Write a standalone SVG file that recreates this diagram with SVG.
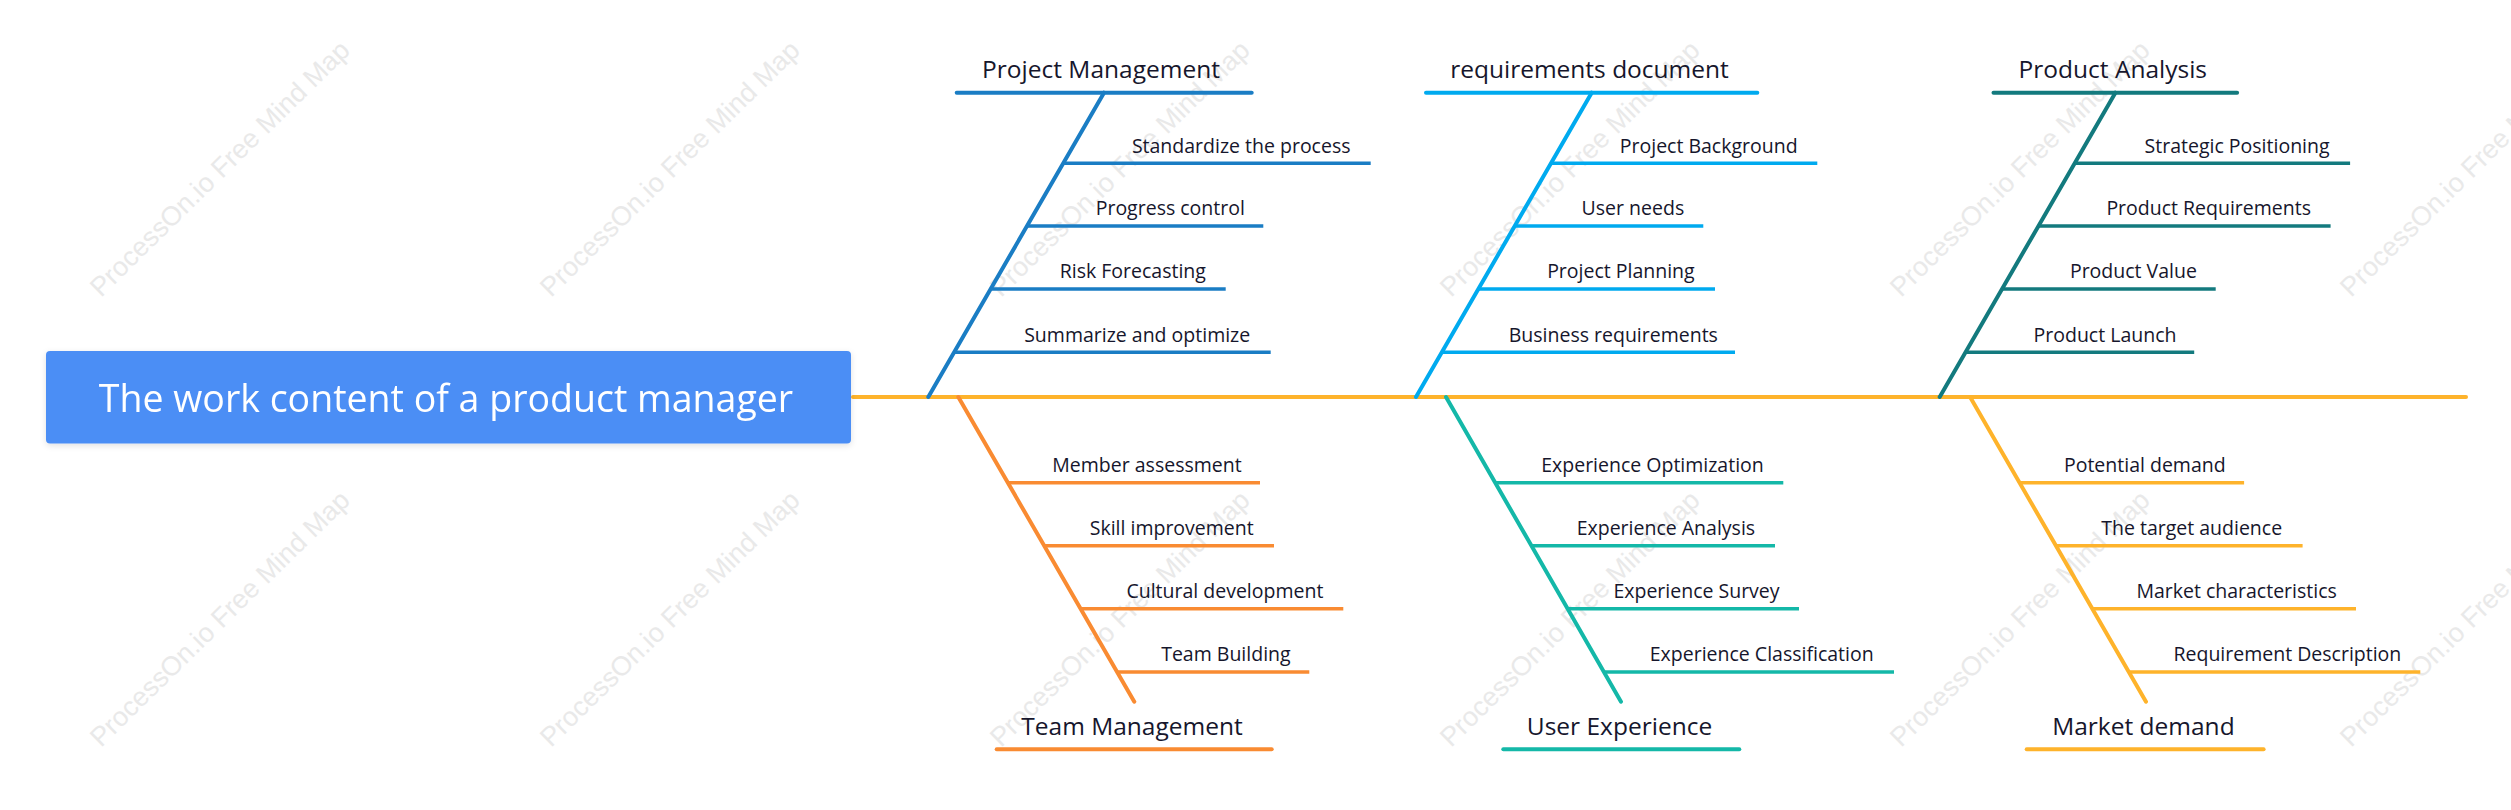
<svg xmlns="http://www.w3.org/2000/svg" width="2511" height="810" viewBox="0 0 2511 810">
<defs>
<style>
.wm{font-family:"Liberation Sans",Arial,sans-serif;font-size:27px;fill:#e9e9e9}
.t{font-family:"Open Sans","Noto Sans",sans-serif;fill:#16162c;text-anchor:middle}
.sub{font-size:19.5px}
.ttl{font-size:24.5px}
.root{font-family:"Open Sans","Noto Sans",sans-serif;font-size:37.5px;fill:#ffffff;text-anchor:middle}
line{fill:none}
.sp{stroke-width:4;stroke-linecap:round}
.tl{stroke-width:4;stroke-linecap:round}
.sl{stroke-width:3.6;stroke-linecap:butt}
.cA{stroke:#1a7dc4}.cB{stroke:#00aaef}.cC{stroke:#137a7e}.cD{stroke:#f98b32}.cE{stroke:#14b8a8}.cF{stroke:#feb32b}
</style>
<filter id="sh" x="-5%" y="-20%" width="110%" height="150%">
<feDropShadow dx="0" dy="2" stdDeviation="3" flood-color="#000" flood-opacity="0.12"/>
</filter>
</defs>
<rect width="2511" height="810" fill="#ffffff"/>
<g id="watermarks">
<text class="wm" transform="translate(101,298) rotate(-44.5)">ProcessOn.io Free Mind Map</text>
<text class="wm" transform="translate(551,298) rotate(-44.5)">ProcessOn.io Free Mind Map</text>
<text class="wm" transform="translate(1001,298) rotate(-44.5)">ProcessOn.io Free Mind Map</text>
<text class="wm" transform="translate(1451,298) rotate(-44.5)">ProcessOn.io Free Mind Map</text>
<text class="wm" transform="translate(1901,298) rotate(-44.5)">ProcessOn.io Free Mind Map</text>
<text class="wm" transform="translate(2351,298) rotate(-44.5)">ProcessOn.io Free Mind Map</text>
<text class="wm" transform="translate(101,748) rotate(-44.5)">ProcessOn.io Free Mind Map</text>
<text class="wm" transform="translate(551,748) rotate(-44.5)">ProcessOn.io Free Mind Map</text>
<text class="wm" transform="translate(1001,748) rotate(-44.5)">ProcessOn.io Free Mind Map</text>
<text class="wm" transform="translate(1451,748) rotate(-44.5)">ProcessOn.io Free Mind Map</text>
<text class="wm" transform="translate(1901,748) rotate(-44.5)">ProcessOn.io Free Mind Map</text>
<text class="wm" transform="translate(2351,748) rotate(-44.5)">ProcessOn.io Free Mind Map</text>
</g>
<g id="connectors">
<line class="sp cF" x1="853" y1="397" x2="2466" y2="397" stroke-linecap="butt"/>
<line class="sp cA" x1="928.3" y1="397" x2="1104" y2="92.7"/>
<line class="sp cB" x1="1416" y1="397" x2="1591.7" y2="92.7"/>
<line class="sp cC" x1="1939.7" y1="397" x2="2115.4" y2="92.7"/>
<line class="sp cD" x1="958.3" y1="397" x2="1134.3" y2="701.7"/>
<line class="sp cE" x1="1446" y1="397" x2="1621" y2="701.7"/>
<line class="sp cF" x1="1970.1" y1="397" x2="2146" y2="701.7"/>
</g>
<g id="root" filter="url(#sh)">
<rect x="46" y="351" width="805" height="92.5" rx="4" fill="#4b8ef5"/>
<text class="root" x="446" y="411.5">The work content of a product manager</text>
</g>
<g id="project-management">
<line class="tl cA" x1="956.7" y1="92.7" x2="1251.7" y2="92.7"/>
<text class="t ttl" x="1101" y="78">Project Management</text>
</g>
<g id="standardize-the-process"><line class="sl cA" x1="1063.2" y1="163.3" x2="1370.7" y2="163.3"/><text class="t sub" x="1241.2" y="152.5">Standardize the process</text></g>
<g id="progress-control"><line class="sl cA" x1="1027" y1="226" x2="1263.3" y2="226"/><text class="t sub" x="1170.3" y="215.2">Progress control</text></g>
<g id="risk-forecasting"><line class="sl cA" x1="990.7" y1="289" x2="1225.7" y2="289"/><text class="t sub" x="1132.8" y="278.2">Risk Forecasting</text></g>
<g id="summarize-and-optimize"><line class="sl cA" x1="954.1" y1="352.3" x2="1270.7" y2="352.3"/><text class="t sub" x="1137.2" y="341.5">Summarize and optimize</text></g>
<g id="requirements-document">
<line class="tl cB" x1="1426" y1="92.7" x2="1757.3" y2="92.7"/>
<text class="t ttl" x="1589.5" y="78">requirements document</text>
</g>
<g id="project-background"><line class="sl cB" x1="1550.9" y1="163.3" x2="1817.3" y2="163.3"/><text class="t sub" x="1708.7" y="152.5">Project Background</text></g>
<g id="user-needs"><line class="sl cB" x1="1514.7" y1="226" x2="1703.3" y2="226"/><text class="t sub" x="1632.9" y="215.2">User needs</text></g>
<g id="project-planning"><line class="sl cB" x1="1478.4" y1="289" x2="1715" y2="289"/><text class="t sub" x="1620.9" y="278.2">Project Planning</text></g>
<g id="business-requirements"><line class="sl cB" x1="1441.8" y1="352.3" x2="1735" y2="352.3"/><text class="t sub" x="1613.3" y="341.5">Business requirements</text></g>
<g id="product-analysis">
<line class="tl cC" x1="1993.5" y1="92.7" x2="2237.1" y2="92.7"/>
<text class="t ttl" x="2112.8" y="78">Product Analysis</text>
</g>
<g id="strategic-positioning"><line class="sl cC" x1="2074.6" y1="163.3" x2="2350.1" y2="163.3"/><text class="t sub" x="2237.1" y="152.5">Strategic Positioning</text></g>
<g id="product-requirements"><line class="sl cC" x1="2038.4" y1="226" x2="2330.6" y2="226"/><text class="t sub" x="2208.7" y="215.2">Product Requirements</text></g>
<g id="product-value"><line class="sl cC" x1="2002.1" y1="289" x2="2215.7" y2="289"/><text class="t sub" x="2133.4" y="278.2">Product Value</text></g>
<g id="product-launch"><line class="sl cC" x1="1965.5" y1="352.3" x2="2194.2" y2="352.3"/><text class="t sub" x="2105" y="341.5">Product Launch</text></g>
<g id="team-management">
<line class="tl cD" x1="996.7" y1="749.3" x2="1271.7" y2="749.3"/>
<text class="t ttl" x="1132" y="735">Team Management</text>
</g>
<g id="member-assessment"><line class="sl cD" x1="1007.8" y1="482.7" x2="1260" y2="482.7"/><text class="t sub" x="1147" y="471.9">Member assessment</text></g>
<g id="skill-improvement"><line class="sl cD" x1="1044.2" y1="545.7" x2="1274" y2="545.7"/><text class="t sub" x="1171.7" y="534.9">Skill improvement</text></g>
<g id="cultural-development"><line class="sl cD" x1="1080.5" y1="608.7" x2="1343.3" y2="608.7"/><text class="t sub" x="1224.9" y="597.9">Cultural development</text></g>
<g id="team-building"><line class="sl cD" x1="1117.1" y1="672" x2="1309.3" y2="672"/><text class="t sub" x="1225.9" y="661.2">Team Building</text></g>
<g id="user-experience">
<line class="tl cE" x1="1503.3" y1="749.3" x2="1739.3" y2="749.3"/>
<text class="t ttl" x="1619.5" y="735">User Experience</text>
</g>
<g id="experience-optimization"><line class="sl cE" x1="1495.5" y1="482.7" x2="1783.3" y2="482.7"/><text class="t sub" x="1652.5" y="471.9">Experience Optimization</text></g>
<g id="experience-analysis"><line class="sl cE" x1="1531.9" y1="545.7" x2="1775" y2="545.7"/><text class="t sub" x="1665.9" y="534.9">Experience Analysis</text></g>
<g id="experience-survey"><line class="sl cE" x1="1568.2" y1="608.7" x2="1799" y2="608.7"/><text class="t sub" x="1696.5" y="597.9">Experience Survey</text></g>
<g id="experience-classification"><line class="sl cE" x1="1604.8" y1="672" x2="1894" y2="672"/><text class="t sub" x="1761.7" y="661.2">Experience Classification</text></g>
<g id="market-demand">
<line class="tl cF" x1="2026.7" y1="749.3" x2="2263.6" y2="749.3"/>
<text class="t ttl" x="2143.4" y="735">Market demand</text>
</g>
<g id="potential-demand"><line class="sl cF" x1="2019.6" y1="482.7" x2="2244.1" y2="482.7"/><text class="t sub" x="2144.8" y="471.9">Potential demand</text></g>
<g id="the-target-audience"><line class="sl cF" x1="2056" y1="545.7" x2="2302.6" y2="545.7"/><text class="t sub" x="2191.7" y="534.9">The target audience</text></g>
<g id="market-characteristics"><line class="sl cF" x1="2092.3" y1="608.7" x2="2356" y2="608.7"/><text class="t sub" x="2236.6" y="597.9">Market characteristics</text></g>
<g id="requirement-description"><line class="sl cF" x1="2128.9" y1="672" x2="2420.3" y2="672"/><text class="t sub" x="2287.4" y="661.2">Requirement Description</text></g>
</svg>
